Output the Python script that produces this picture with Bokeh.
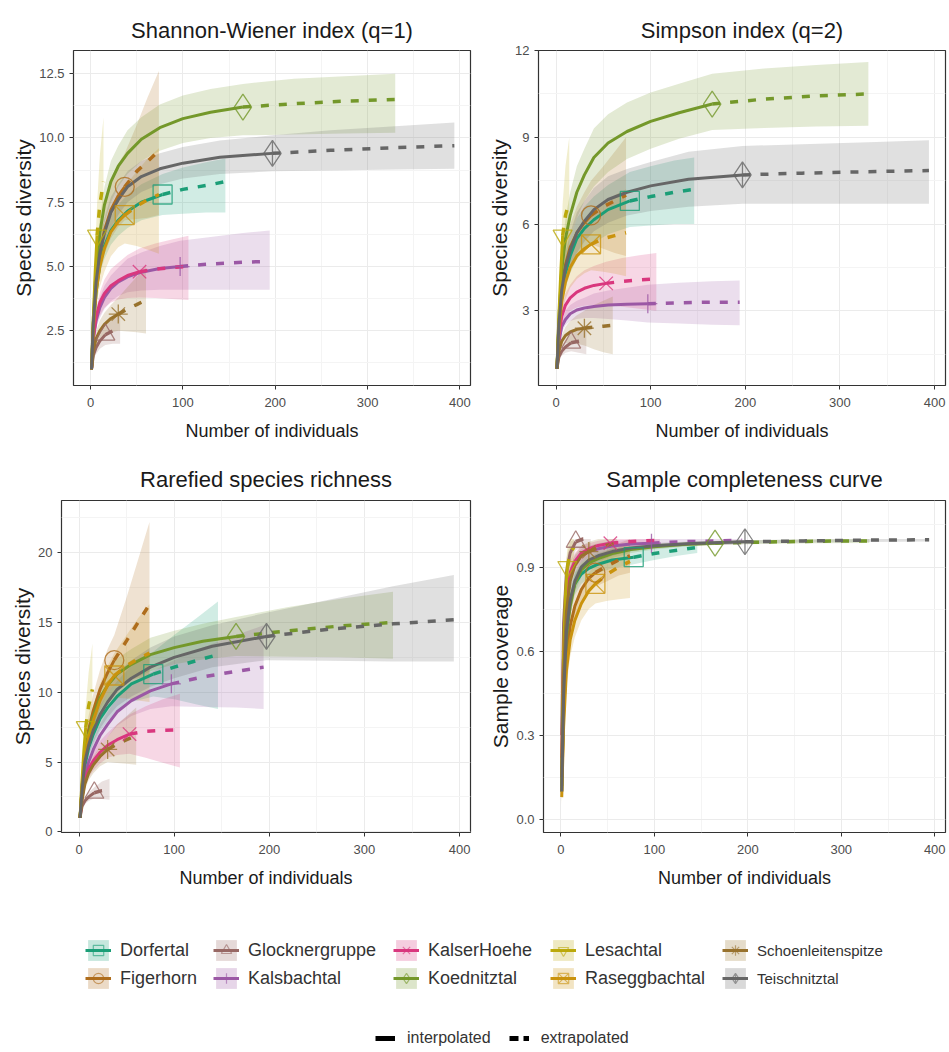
from bokeh.plotting import figure
from bokeh.layouts import column, row
from bokeh.models import (Range1d, FixedTicker, NumeralTickFormatter, Legend,
                          LegendItem, ColumnDataSource)
from bokeh.embed import file_html
from bokeh.resources import INLINE

FONT = "Liberation Sans"

SITES = ["Dorfertal", "Figerhorn", "Glocknergruppe", "Kalsbachtal", "KalserHoehe",
         "Koednitztal", "Lesachtal", "Raseggbachtal", "Schoenleitenspitze", "Teischnitztal"]
COLORS = ["#1B9E77", "#AF6D1C", "#986864", "#9B58A5", "#D9377E",
          "#74982A", "#BBA90B", "#CA930E", "#98722D", "#666666"]
MARKERS = ["square", "circle", "triangle", "cross", "x",
           "diamond", "inverted_triangle", "square_x", "asterisk", "diamond_cross"]

# observed sample sizes (reference samples)
N_OBS = {"Dorfertal": 78, "Figerhorn": 37, "Glocknergruppe": 16, "Kalsbachtal": 97,
         "KalserHoehe": 53, "Koednitztal": 165, "Lesachtal": 7, "Raseggbachtal": 37,
         "Schoenleitenspitze": 30, "Teischnitztal": 197}

# sample sizes at which the curves are read (interpolated up to N_OBS, extrapolated beyond)
X_GRID = {
    "Dorfertal": [1, 3, 6, 10, 15, 22, 30, 40, 55, 78, 100, 125, 146],
    "Figerhorn": [1, 3, 6, 10, 15, 22, 30, 37, 50, 62, 74],
    "Glocknergruppe": [1, 3, 6, 10, 16, 24, 32],
    "Kalsbachtal": [1, 3, 6, 10, 15, 22, 30, 40, 55, 75, 97, 130, 165, 194],
    "KalserHoehe": [1, 3, 6, 10, 15, 22, 30, 40, 53, 70, 88, 106],
    "Koednitztal": [1, 3, 6, 10, 15, 22, 30, 40, 55, 75, 100, 130, 165, 220, 275, 330],
    "Lesachtal": [1, 2, 3, 5, 7, 10, 14],
    "Raseggbachtal": [1, 3, 6, 10, 15, 22, 30, 37, 50, 62, 74],
    "Schoenleitenspitze": [1, 3, 6, 10, 15, 22, 30, 40, 50, 60],
    "Teischnitztal": [1, 3, 6, 10, 15, 22, 30, 40, 55, 75, 100, 140, 197, 260, 330, 394],
}

# ---- Shannon-Wiener (q=1)
Q1_EST = {
    "Dorfertal": [1, 2.6, 4.0, 5.1, 5.8, 6.4, 6.8, 7.15, 7.5, 7.8, 8.0, 8.15, 8.3],
    "Figerhorn": [1, 2.8, 4.4, 5.5, 6.4, 7.2, 7.75, 8.1, 8.7, 9.1, 9.5],
    "Glocknergruppe": [1, 1.55, 1.85, 2.1, 2.35, 2.5, 2.6],
    "Kalsbachtal": [1, 2.2, 2.9, 3.4, 3.8, 4.15, 4.4, 4.6, 4.78, 4.92, 5.0, 5.1, 5.17, 5.2],
    "KalserHoehe": [1, 2.2, 3.05, 3.6, 3.95, 4.25, 4.45, 4.65, 4.8, 4.9, 4.96, 5.0],
    "Koednitztal": [1, 3.0, 4.9, 6.3, 7.4, 8.3, 8.9, 9.4, 9.95, 10.4, 10.75, 11.0, 11.2, 11.33, 11.43, 11.5],
    "Lesachtal": [1, 2.0, 3.0, 4.8, 6.2, 7.4, 8.3],
    "Raseggbachtal": [1, 2.6, 4.0, 5.0, 5.7, 6.35, 6.75, 7.0, 7.35, 7.6, 7.8],
    "Schoenleitenspitze": [1, 1.75, 2.2, 2.5, 2.75, 2.98, 3.15, 3.35, 3.52, 3.7],
    "Teischnitztal": [1, 2.8, 4.4, 5.5, 6.3, 7.1, 7.6, 8.1, 8.5, 8.8, 9.02, 9.25, 9.4, 9.52, 9.62, 9.7],
}
Q1_LO = {
    "Dorfertal": [1, 2.4, 3.7, 4.7, 5.3, 5.85, 6.2, 6.5, 6.8, 7.0, 7.05, 7.1, 7.1],
    "Figerhorn": [1, 2.4, 3.8, 4.7, 5.5, 6.1, 6.55, 6.8, 6.85, 6.9, 7.0],
    "Glocknergruppe": [1, 1.4, 1.6, 1.8, 1.95, 2.0, 2.0],
    "Kalsbachtal": [1, 2.0, 2.6, 3.0, 3.35, 3.65, 3.85, 4.0, 4.07, 4.1, 4.1, 4.1, 4.1, 4.1],
    "KalserHoehe": [1, 2.0, 2.7, 3.1, 3.4, 3.6, 3.72, 3.78, 3.8, 3.78, 3.74, 3.7],
    "Koednitztal": [1, 2.7, 4.4, 5.7, 6.7, 7.5, 8.1, 8.6, 9.1, 9.5, 9.8, 10.0, 10.1, 10.13, 10.17, 10.2],
    "Lesachtal": [1, 1.8, 2.6, 4.0, 5.0, 5.5, 5.8],
    "Raseggbachtal": [1, 2.2, 3.4, 4.2, 4.8, 5.4, 5.75, 5.9, 5.8, 5.65, 5.5],
    "Schoenleitenspitze": [1, 1.6, 1.9, 2.1, 2.3, 2.43, 2.5, 2.47, 2.44, 2.4],
    "Teischnitztal": [1, 2.5, 4.0, 5.0, 5.7, 6.5, 7.0, 7.5, 7.9, 8.2, 8.42, 8.6, 8.7, 8.73, 8.77, 8.8],
}
Q1_HI = {
    "Dorfertal": [1, 2.8, 4.3, 5.5, 6.3, 6.95, 7.4, 7.8, 8.2, 8.6, 8.85, 9.05, 9.2],
    "Figerhorn": [1, 3.2, 5.0, 6.3, 7.3, 8.3, 9.0, 9.4, 10.5, 11.6, 12.6],
    "Glocknergruppe": [1, 1.7, 2.1, 2.4, 2.75, 3.0, 3.2],
    "Kalsbachtal": [1, 2.4, 3.2, 3.8, 4.25, 4.65, 4.95, 5.3, 5.55, 5.8, 6.0, 6.15, 6.3, 6.4],
    "KalserHoehe": [1, 2.4, 3.4, 4.0, 4.5, 4.9, 5.15, 5.45, 5.7, 5.9, 6.05, 6.2],
    "Koednitztal": [1, 3.3, 5.4, 6.9, 8.1, 9.1, 9.7, 10.3, 10.8, 11.3, 11.65, 11.9, 12.1, 12.3, 12.4, 12.5],
    "Lesachtal": [1, 2.2, 3.4, 5.6, 7.4, 9.3, 10.8],
    "Raseggbachtal": [1, 3.0, 4.6, 5.8, 6.6, 7.3, 7.8, 8.1, 8.7, 9.2, 9.6],
    "Schoenleitenspitze": [1, 1.9, 2.5, 2.9, 3.2, 3.5, 3.8, 4.2, 4.6, 5.0],
    "Teischnitztal": [1, 3.1, 4.8, 6.0, 6.9, 7.7, 8.2, 8.7, 9.1, 9.4, 9.65, 9.9, 10.1, 10.3, 10.45, 10.6],
}

# ---- Simpson (q=2)
Q2_EST = {
    "Dorfertal": [1, 2.4, 3.6, 4.3, 4.9, 5.5, 5.85, 6.15, 6.5, 6.8, 6.95, 7.1, 7.2],
    "Figerhorn": [1, 2.5, 3.8, 4.6, 5.2, 5.7, 6.05, 6.3, 6.6, 6.8, 7.0],
    "Glocknergruppe": [1, 1.4, 1.6, 1.75, 1.9, 1.95, 2.0],
    "Kalsbachtal": [1, 1.9, 2.45, 2.7, 2.9, 3.03, 3.1, 3.15, 3.2, 3.23, 3.25, 3.28, 3.3, 3.3],
    "KalserHoehe": [1, 2.1, 2.8, 3.2, 3.45, 3.65, 3.78, 3.88, 3.95, 4.02, 4.07, 4.1],
    "Koednitztal": [1, 2.7, 4.4, 5.5, 6.3, 7.1, 7.7, 8.3, 8.8, 9.2, 9.55, 9.85, 10.15, 10.32, 10.43, 10.5],
    "Lesachtal": [1, 1.9, 2.8, 4.3, 5.6, 6.3, 6.8],
    "Raseggbachtal": [1, 2.3, 3.3, 4.0, 4.5, 4.9, 5.15, 5.3, 5.5, 5.6, 5.7],
    "Schoenleitenspitze": [1, 1.6, 1.95, 2.15, 2.27, 2.36, 2.4, 2.44, 2.47, 2.5],
    "Teischnitztal": [1, 2.5, 3.7, 4.5, 5.1, 5.7, 6.1, 6.5, 6.85, 7.1, 7.32, 7.55, 7.7, 7.76, 7.81, 7.85],
}
Q2_LO = {
    "Dorfertal": [1, 2.2, 3.2, 3.8, 4.3, 4.8, 5.1, 5.35, 5.65, 5.9, 5.95, 6.0, 6.0],
    "Figerhorn": [1, 2.2, 3.2, 3.9, 4.4, 4.9, 5.15, 5.3, 5.15, 5.0, 4.9],
    "Glocknergruppe": [1, 1.3, 1.45, 1.55, 1.6, 1.55, 1.5],
    "Kalsbachtal": [1, 1.75, 2.25, 2.5, 2.65, 2.72, 2.75, 2.75, 2.72, 2.67, 2.6, 2.56, 2.52, 2.5],
    "KalserHoehe": [1, 1.9, 2.5, 2.8, 3.0, 3.12, 3.18, 3.2, 3.2, 3.14, 3.07, 3.0],
    "Koednitztal": [1, 2.4, 3.9, 4.8, 5.5, 6.2, 6.8, 7.3, 7.8, 8.25, 8.6, 8.95, 9.25, 9.32, 9.37, 9.4],
    "Lesachtal": [1, 1.7, 2.4, 3.6, 4.5, 4.6, 4.6],
    "Raseggbachtal": [1, 2.0, 2.9, 3.4, 3.8, 4.1, 4.3, 4.4, 4.35, 4.28, 4.2],
    "Schoenleitenspitze": [1, 1.5, 1.75, 1.88, 1.9, 1.86, 1.8, 1.67, 1.57, 1.5],
    "Teischnitztal": [1, 2.2, 3.3, 4.0, 4.5, 5.0, 5.4, 5.75, 6.05, 6.3, 6.45, 6.6, 6.7, 6.7, 6.7, 6.7],
}
Q2_HI = {
    "Dorfertal": [1, 2.6, 4.0, 4.8, 5.5, 6.2, 6.6, 6.95, 7.35, 7.8, 8.0, 8.2, 8.3],
    "Figerhorn": [1, 2.8, 4.4, 5.3, 6.0, 6.6, 7.1, 7.5, 8.0, 8.5, 9.0],
    "Glocknergruppe": [1, 1.5, 1.75, 1.95, 2.2, 2.4, 2.5],
    "Kalsbachtal": [1, 2.05, 2.65, 3.0, 3.2, 3.35, 3.45, 3.6, 3.7, 3.8, 3.9, 3.97, 4.02, 4.05],
    "KalserHoehe": [1, 2.3, 3.1, 3.6, 3.9, 4.2, 4.4, 4.55, 4.7, 4.83, 4.92, 5.0],
    "Koednitztal": [1, 3.0, 4.9, 6.2, 7.1, 8.0, 8.6, 9.3, 9.8, 10.2, 10.55, 10.85, 11.2, 11.38, 11.5, 11.6],
    "Lesachtal": [1, 2.1, 3.2, 5.0, 6.7, 8.0, 9.0],
    "Raseggbachtal": [1, 2.6, 3.7, 4.6, 5.2, 5.7, 6.05, 6.3, 6.7, 7.0, 7.2],
    "Schoenleitenspitze": [1, 1.7, 2.15, 2.45, 2.65, 2.85, 3.0, 3.2, 3.35, 3.5],
    "Teischnitztal": [1, 2.8, 4.1, 5.0, 5.7, 6.4, 6.8, 7.25, 7.65, 7.9, 8.15, 8.5, 8.7, 8.76, 8.83, 8.9],
}

# ---- Rarefied species richness (q=0)
Q0_EST = {
    "Dorfertal": [1, 2.8, 4.7, 6.0, 7.0, 8.1, 8.9, 9.7, 10.6, 11.3, 11.8, 12.3, 12.7],
    "Figerhorn": [1, 3.1, 5.5, 7.3, 8.7, 10.2, 11.4, 12.3, 13.7, 15.0, 16.3],
    "Glocknergruppe": [1, 1.8, 2.2, 2.5, 2.8, 2.95, 3.0],
    "Kalsbachtal": [1, 2.6, 4.0, 5.0, 5.9, 6.9, 7.7, 8.6, 9.4, 10.1, 10.6, 11.1, 11.5, 11.8],
    "KalserHoehe": [1, 2.4, 3.7, 4.5, 5.1, 5.7, 6.2, 6.6, 7.0, 7.2, 7.27, 7.3],
    "Koednitztal": [1, 3.2, 5.5, 7.0, 8.3, 9.6, 10.5, 11.3, 12.0, 12.7, 13.2, 13.65, 14.0, 14.4, 14.75, 15.0],
    "Lesachtal": [1, 2.3, 3.6, 5.8, 7.5, 9.0, 10.2],
    "Raseggbachtal": [1, 3.0, 5.2, 6.8, 8.0, 9.4, 10.5, 11.2, 11.9, 12.4, 12.8],
    "Schoenleitenspitze": [1, 2.2, 3.4, 4.2, 4.8, 5.4, 5.9, 6.3, 6.6, 6.9],
    "Teischnitztal": [1, 2.9, 5.0, 6.2, 7.3, 8.4, 9.3, 10.2, 11.0, 11.8, 12.5, 13.3, 14.0, 14.5, 14.9, 15.2],
}
Q0_LO = {
    "Dorfertal": [1, 2.5, 4.2, 5.3, 6.2, 7.2, 7.9, 8.6, 9.3, 9.7, 9.5, 9.1, 8.8],
    "Figerhorn": [1, 2.7, 4.8, 6.3, 7.5, 8.9, 9.9, 10.5, 10.8, 11.0, 11.0],
    "Glocknergruppe": [1, 1.6, 2.0, 2.2, 2.4, 2.35, 2.3],
    "Kalsbachtal": [1, 2.3, 3.6, 4.4, 5.2, 6.1, 6.8, 7.6, 8.3, 8.8, 9.0, 8.95, 8.9, 8.8],
    "KalserHoehe": [1, 2.1, 3.3, 3.9, 4.4, 4.9, 5.3, 5.5, 5.6, 5.3, 4.95, 4.6],
    "Koednitztal": [1, 2.9, 5.0, 6.3, 7.5, 8.7, 9.5, 10.2, 10.9, 11.5, 12.0, 12.35, 12.6, 12.55, 12.5, 12.4],
    "Lesachtal": [1, 2.0, 3.0, 4.8, 6.0, 6.6, 6.9],
    "Raseggbachtal": [1, 2.6, 4.5, 5.9, 7.0, 8.2, 9.1, 9.6, 9.55, 9.4, 9.3],
    "Schoenleitenspitze": [1, 1.9, 3.0, 3.7, 4.2, 4.7, 5.0, 4.93, 4.87, 4.8],
    "Teischnitztal": [1, 2.6, 4.5, 5.5, 6.4, 7.4, 8.2, 9.0, 9.7, 10.4, 11.0, 11.8, 12.3, 12.25, 12.2, 12.2],
}
Q0_HI = {
    "Dorfertal": [1, 3.1, 5.2, 6.7, 7.8, 9.0, 9.9, 10.8, 11.9, 12.9, 14.1, 15.4, 16.5],
    "Figerhorn": [1, 3.5, 6.2, 8.3, 9.9, 11.6, 13.1, 14.1, 16.8, 19.5, 22.2],
    "Glocknergruppe": [1, 2.0, 2.4, 2.8, 3.2, 3.6, 3.8],
    "Kalsbachtal": [1, 2.9, 4.4, 5.6, 6.6, 7.7, 8.6, 9.6, 10.5, 11.4, 12.2, 13.2, 14.1, 14.8],
    "KalserHoehe": [1, 2.7, 4.1, 5.1, 5.8, 6.5, 7.1, 7.7, 8.4, 9.0, 9.5, 9.9],
    "Koednitztal": [1, 3.5, 6.0, 7.7, 9.1, 10.5, 11.5, 12.4, 13.1, 13.9, 14.4, 14.9, 15.4, 16.1, 16.7, 17.2],
    "Lesachtal": [1, 2.6, 4.2, 6.8, 9.0, 11.4, 13.5],
    "Raseggbachtal": [1, 3.4, 5.9, 7.7, 9.0, 10.6, 11.9, 12.8, 14.1, 15.3, 16.3],
    "Schoenleitenspitze": [1, 2.5, 3.8, 4.7, 5.4, 6.1, 6.8, 7.7, 8.3, 8.9],
    "Teischnitztal": [1, 3.2, 5.5, 6.9, 8.2, 9.4, 10.4, 11.4, 12.3, 13.2, 14.0, 14.8, 15.7, 16.6, 17.6, 18.4],
}

# ---- Sample coverage
SC_EST = {
    "Dorfertal": [0.12, 0.45, 0.68, 0.78, 0.84, 0.875, 0.895, 0.91, 0.925, 0.935, 0.948, 0.96, 0.97],
    "Figerhorn": [0.10, 0.38, 0.58, 0.69, 0.76, 0.82, 0.86, 0.88, 0.905, 0.925, 0.94],
    "Glocknergruppe": [0.30, 0.70, 0.88, 0.95, 0.99, 1.0, 1.0],
    "Kalsbachtal": [0.18, 0.55, 0.76, 0.86, 0.91, 0.94, 0.955, 0.965, 0.975, 0.982, 0.985, 0.99, 0.993, 0.995],
    "KalserHoehe": [0.22, 0.60, 0.80, 0.88, 0.92, 0.95, 0.965, 0.977, 0.985, 0.99, 0.993, 0.995],
    "Koednitztal": [0.10, 0.42, 0.65, 0.76, 0.84, 0.89, 0.915, 0.93, 0.948, 0.962, 0.972, 0.98, 0.985, 0.989, 0.992, 0.993],
    "Lesachtal": [0.15, 0.40, 0.60, 0.80, 0.90, 0.95, 0.97],
    "Raseggbachtal": [0.08, 0.33, 0.53, 0.64, 0.71, 0.77, 0.815, 0.84, 0.875, 0.90, 0.92],
    "Schoenleitenspitze": [0.15, 0.52, 0.74, 0.85, 0.905, 0.94, 0.955, 0.97, 0.978, 0.985],
    "Teischnitztal": [0.10, 0.44, 0.67, 0.78, 0.85, 0.90, 0.925, 0.94, 0.955, 0.968, 0.976, 0.984, 0.99, 0.993, 0.996, 0.997],
}
SC_LO = {
    "Dorfertal": [0.08, 0.40, 0.63, 0.73, 0.80, 0.84, 0.86, 0.88, 0.895, 0.91, 0.925, 0.94, 0.95],
    "Figerhorn": [0.06, 0.33, 0.52, 0.63, 0.70, 0.76, 0.81, 0.83, 0.85, 0.87, 0.88],
    "Glocknergruppe": [0.24, 0.63, 0.83, 0.91, 0.96, 0.97, 0.97],
    "Kalsbachtal": [0.14, 0.50, 0.71, 0.82, 0.88, 0.915, 0.935, 0.945, 0.957, 0.966, 0.97, 0.975, 0.978, 0.98],
    "KalserHoehe": [0.17, 0.55, 0.75, 0.84, 0.89, 0.925, 0.945, 0.96, 0.97, 0.975, 0.978, 0.98],
    "Koednitztal": [0.07, 0.38, 0.61, 0.72, 0.81, 0.865, 0.895, 0.91, 0.932, 0.95, 0.962, 0.972, 0.978, 0.982, 0.985, 0.986],
    "Lesachtal": [0.10, 0.33, 0.52, 0.72, 0.83, 0.89, 0.92],
    "Raseggbachtal": [0.05, 0.28, 0.47, 0.58, 0.65, 0.71, 0.75, 0.77, 0.78, 0.785, 0.79],
    "Schoenleitenspitze": [0.10, 0.46, 0.68, 0.80, 0.865, 0.905, 0.92, 0.935, 0.943, 0.95],
    "Teischnitztal": [0.07, 0.40, 0.63, 0.75, 0.82, 0.875, 0.905, 0.92, 0.94, 0.956, 0.966, 0.977, 0.984, 0.987, 0.989, 0.991],
}
SC_HI = {
    "Dorfertal": [0.16, 0.50, 0.73, 0.83, 0.88, 0.91, 0.93, 0.94, 0.955, 0.96, 0.97, 0.98, 0.99],
    "Figerhorn": [0.14, 0.43, 0.64, 0.75, 0.82, 0.88, 0.91, 0.93, 0.96, 0.985, 1.0],
    "Glocknergruppe": [0.36, 0.77, 0.93, 0.99, 1.0, 1.0, 1.0],
    "Kalsbachtal": [0.22, 0.60, 0.81, 0.90, 0.94, 0.965, 0.975, 0.985, 0.993, 0.998, 1.0, 1.0, 1.0, 1.0],
    "KalserHoehe": [0.27, 0.65, 0.85, 0.92, 0.95, 0.975, 0.985, 0.994, 1.0, 1.0, 1.0, 1.0],
    "Koednitztal": [0.13, 0.46, 0.69, 0.80, 0.87, 0.915, 0.935, 0.95, 0.964, 0.974, 0.982, 0.988, 0.992, 0.996, 0.999, 1.0],
    "Lesachtal": [0.20, 0.47, 0.68, 0.88, 0.97, 1.0, 1.0],
    "Raseggbachtal": [0.11, 0.38, 0.59, 0.70, 0.77, 0.83, 0.88, 0.91, 0.945, 0.97, 0.99],
    "Schoenleitenspitze": [0.20, 0.58, 0.80, 0.90, 0.945, 0.975, 0.99, 1.0, 1.0, 1.0],
    "Teischnitztal": [0.13, 0.48, 0.71, 0.81, 0.88, 0.925, 0.945, 0.96, 0.97, 0.98, 0.986, 0.991, 0.996, 0.998, 1.0, 1.0],
}

X_TICKS = [0, 100, 200, 300, 400]
X_MINOR = [50, 150, 250, 350]
LINE_TYPES = ["interpolated", "extrapolated"]


def style_axes(p, ylabel, yticks, yminor, yfmt):
    p.background_fill_color = "white"
    p.border_fill_color = "white"
    p.outline_line_color = "#333333"
    p.outline_line_width = 1.2
    p.title.text_font = FONT
    p.title.text_font_size = "22px"
    p.title.text_font_style = "normal"
    p.title.text_color = "#1a1a1a"
    p.title.align = "center"
    p.xaxis.ticker = FixedTicker(ticks=X_TICKS, minor_ticks=X_MINOR)
    p.yaxis.ticker = FixedTicker(ticks=yticks, minor_ticks=yminor)
    p.yaxis.formatter = NumeralTickFormatter(format=yfmt)
    for ax in (p.xaxis, p.yaxis):
        ax.axis_line_color = None
        ax.major_tick_line_color = "#333333"
        ax.major_tick_out = 4
        ax.major_tick_in = 0
        ax.minor_tick_out = 0
        ax.minor_tick_in = 0
        ax.major_label_text_font = FONT
        ax.major_label_text_font_size = "13px"
        ax.major_label_text_color = "#4D4D4D"
        ax.axis_label_text_font = FONT
        ax.axis_label_text_font_style = "normal"
        ax.axis_label_text_color = "#1a1a1a"
    p.xaxis.major_label_standoff = 8
    p.xaxis.axis_label = "Number of individuals"
    p.xaxis.axis_label_text_font_size = "18px"
    p.xaxis.axis_label_standoff = 11
    p.yaxis.axis_label = ylabel
    p.yaxis.axis_label_text_font_size = "21px"
    p.yaxis.axis_label_standoff = 1
    p.grid.grid_line_color = "#EBEBEB"
    p.grid.grid_line_width = 1
    p.grid.minor_grid_line_color = "#F4F4F4"
    p.grid.minor_grid_line_width = 1


def make_panel(title, est, lo, hi, ylabel, yrange, yticks, yminor, yfmt,
               width, height, borders, title_standoff):
    left, right, top, bottom = borders
    p = figure(width=width, height=height, title=title,
               x_range=Range1d(-18.5, 411.5), y_range=Range1d(*yrange),
               output_backend="svg", toolbar_location=None,
               min_border_left=left, min_border_right=right,
               min_border_top=top, min_border_bottom=bottom)
    style_axes(p, ylabel, yticks, yminor, yfmt)
    p.title.standoff = title_standoff
    for i, s in enumerate(SITES):
        src = ColumnDataSource(dict(x=X_GRID[s], lo=lo[s], hi=hi[s]))
        p.varea(x="x", y1="lo", y2="hi", source=src,
                fill_color=COLORS[i], fill_alpha=0.2)
    for i, s in enumerate(SITES):
        xs = X_GRID[s]
        k = xs.index(N_OBS[s])
        p.line(xs[:k + 1], est[s][:k + 1], line_color=COLORS[i], line_width=3,
               line_join="round")
        p.line(xs[k:], est[s][k:], line_color=COLORS[i], line_width=3.5,
               line_dash="8 10")
    for i, s in enumerate(SITES):
        xs = X_GRID[s]
        k = xs.index(N_OBS[s])
        size = 26 if MARKERS[i] in ("diamond", "diamond_cross") else 19
        p.scatter([xs[k]], [est[s][k]], marker=MARKERS[i], size=size,
                  fill_color=None, line_color=COLORS[i], line_width=1.3,
                  line_alpha=0.8)
    return p


p1 = make_panel("Shannon-Wiener index (q=1)", Q1_EST, Q1_LO, Q1_HI, "Species diversity",
                (0.374, 13.4), [2.5, 5.0, 7.5, 10.0, 12.5], [1.25, 3.75, 6.25, 8.75, 11.25],
                "0.0", 478, 452, (73, 8, 49, 67), 15)
p2 = make_panel("Simpson index (q=2)", Q2_EST, Q2_LO, Q2_HI, "Species diversity",
                (0.42, 12.0), [3, 6, 9, 12], [1.5, 4.5, 7.5, 10.5],
                "0", 469, 452, (60, 2, 50, 65), 15)
p3 = make_panel("Rarefied species richness", Q0_EST, Q0_LO, Q0_HI, "Species diversity",
                (-0.05, 23.74), [0, 5, 10, 15, 20], [2.5, 7.5, 12.5, 17.5, 22.5],
                "0", 478, 438, (61, 8, 48, 55), 18)
p4 = make_panel("Sample completeness curve", SC_EST, SC_LO, SC_HI, "Sample coverage",
                (-0.046, 1.137), [0.0, 0.3, 0.6, 0.9], [0.15, 0.45, 0.75, 1.05],
                "0.0", 469, 438, (65, 2, 48, 54), 18)

# ---- legend strip (legend proxies are hidden renderers of the richness data)
leg = figure(width=947, height=160, x_range=Range1d(-1000, -999), y_range=Range1d(-1000, -999),
             x_axis_type=None, y_axis_type=None, output_backend="svg",
             toolbar_location=None, min_border=0)
leg.outline_line_color = None
leg.grid.visible = False

items = []
for i, s in enumerate(SITES):
    xs = X_GRID[s]
    k = xs.index(N_OBS[s])
    band = leg.varea(x=xs, y1=Q0_LO[s], y2=Q0_HI[s], fill_color=COLORS[i],
                     fill_alpha=0.25, visible=False)
    ln = leg.line(x=xs, y=Q0_EST[s], line_color=COLORS[i], line_width=3, visible=False)
    mk = leg.scatter(x=[xs[k]], y=[Q0_EST[s][k]], marker=MARKERS[i], size=20,
                     fill_color=None, line_color=COLORS[i], line_alpha=0.6,
                     line_width=1.2, visible=False)
    items.append(LegendItem(label=s, renderers=[band, ln, mk]))

LEGEND_COL_X = [85, 213, 393, 550, 722]
for c in range(5):
    lg = Legend(items=items[2 * c:2 * c + 2], location=(LEGEND_COL_X[c], 59),
                orientation="vertical", glyph_width=26, glyph_height=26, spacing=2,
                padding=0, margin=0, label_standoff=9,
                label_text_font=FONT,
                label_text_font_size="18px" if c < 4 else "15px",
                label_text_color="#333333", border_line_color=None,
                background_fill_alpha=0, inactive_fill_alpha=0)
    leg.add_layout(lg, "center")

ref = SITES[-1]
kref = X_GRID[ref].index(N_OBS[ref])
solid = leg.line(x=X_GRID[ref][:kref + 1], y=Q0_EST[ref][:kref + 1], line_color="black",
                 line_width=5, visible=False)
dashed = leg.line(x=X_GRID[ref][kref:], y=Q0_EST[ref][kref:], line_color="black",
                  line_width=5, line_dash="9 5", visible=False)
lg2 = Legend(items=[LegendItem(label=LINE_TYPES[0], renderers=[solid]),
                    LegendItem(label=LINE_TYPES[1], renderers=[dashed])],
             location=(375, 3), orientation="horizontal", glyph_width=20,
             glyph_height=16, spacing=18, padding=0, margin=0, label_standoff=12,
             label_text_font=FONT, label_text_font_size="16px",
             label_text_color="#333333", border_line_color=None,
             background_fill_alpha=0, inactive_fill_alpha=0)
leg.add_layout(lg2, "center")

layout = column(row(p1, p2), row(p3, p4), leg)

open("out.html", "w").write(file_html(layout, INLINE))
